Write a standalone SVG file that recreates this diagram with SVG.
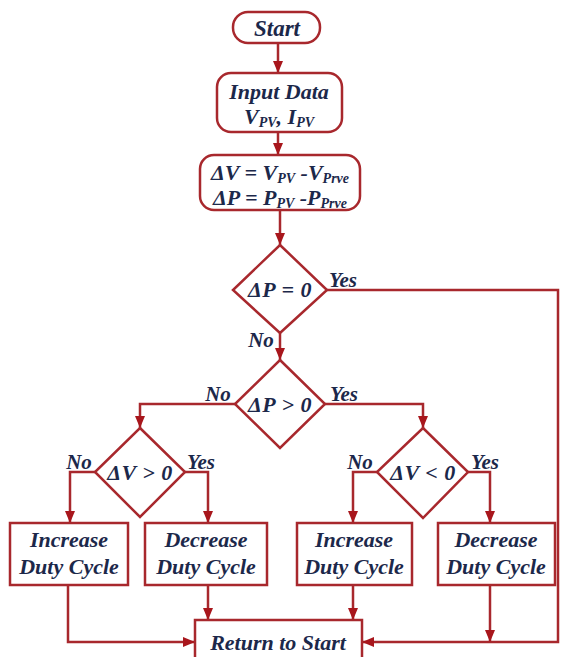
<svg xmlns="http://www.w3.org/2000/svg" width="563" height="657" viewBox="0 0 563 657">
<style>
.sh{fill:#fff;stroke:#a8282d;stroke-width:2.5}
.ln{fill:none;stroke:#a8282d;stroke-width:2.5}
.t{font-family:"Liberation Serif","Times New Roman",serif;font-weight:bold;font-style:italic;font-size:22px;fill:#1c284a;text-anchor:middle}
.l{font-family:"Liberation Serif","Times New Roman",serif;font-weight:bold;font-style:italic;font-size:21px;fill:#1c284a;text-anchor:middle}
.d{letter-spacing:0.5px}
.s{font-size:14px}
</style>
<defs>
<marker id="ah" markerUnits="userSpaceOnUse" markerWidth="12" markerHeight="12" viewBox="0 0 12 12" refX="12" refY="6" orient="auto">
<path d="M0,1 L12,6 L0,11 Z" fill="#a8161c"/>
</marker>
</defs>
<rect width="563" height="657" fill="#fff"/>
<g id="connectors">
<path class="ln" d="M278,43 V73" marker-end="url(#ah)"/>
<path class="ln" d="M278,132 V155" marker-end="url(#ah)"/>
<path class="ln" d="M280,210 V245" marker-end="url(#ah)"/>
<path class="ln" d="M327,290 H558 V642 H362" marker-end="url(#ah)"/>
<path class="ln" d="M280,333 V360" marker-end="url(#ah)"/>
<path class="ln" d="M235,404 H140 V428" marker-end="url(#ah)"/>
<path class="ln" d="M325,404 H423 V428" marker-end="url(#ah)"/>
<path class="ln" d="M95,472 H70 V523" marker-end="url(#ah)"/>
<path class="ln" d="M185,472 H208 V523" marker-end="url(#ah)"/>
<path class="ln" d="M377,472 H353 V523" marker-end="url(#ah)"/>
<path class="ln" d="M468,472 H490 V523" marker-end="url(#ah)"/>
<path class="ln" d="M68,585 V642 H195" marker-end="url(#ah)"/>
<path class="ln" d="M208,585 V620" marker-end="url(#ah)"/>
<path class="ln" d="M353,585 V620" marker-end="url(#ah)"/>
<path class="ln" d="M490,585 V642" marker-end="url(#ah)"/>
</g>
<g id="start">
<rect class="sh" x="233" y="12" width="87" height="31" rx="15"/>
<text class="t" x="277" y="36" style="font-size:23px">Start</text>
</g>
<g id="input">
<rect class="sh" x="217" y="73" width="125" height="59" rx="14"/>
<text class="t" x="279" y="99">Input Data</text>
<text class="t" x="279" y="124">V<tspan class="s" dy="3">PV</tspan><tspan dy="-3">, I</tspan><tspan class="s" dy="3">PV</tspan></text>
</g>
<g id="delta">
<rect class="sh" x="200" y="155" width="160" height="55" rx="14"/>
<text class="t" x="280" y="180">ΔV = V<tspan class="s" dy="3">PV</tspan><tspan dy="-3"> -V</tspan><tspan class="s" dy="3">Prve</tspan></text>
<text class="t" x="280" y="205">ΔP = P<tspan class="s" dy="3">PV</tspan><tspan dy="-3"> -P</tspan><tspan class="s" dy="3">Prve</tspan></text>
</g>
<g id="dp0">
<path class="sh" d="M280,245 L327,290 L280,333 L233,290 Z"/>
<text class="t d" x="280" y="297">ΔP = 0</text>
<text class="l" x="343" y="287">Yes</text>
<text class="l" x="261" y="347">No</text>
</g>
<g id="dpgt">
<path class="sh" d="M280,360 L325,404 L280,448 L235,404 Z"/>
<text class="t d" x="280" y="412">ΔP &gt; 0</text>
<text class="l" x="218" y="401">No</text>
<text class="l" x="344" y="401">Yes</text>
</g>
<g id="dvgt">
<path class="sh" d="M140,428 L185,472 L140,517 L95,472 Z"/>
<text class="t d" x="140" y="480">ΔV &gt; 0</text>
<text class="l" x="79" y="469">No</text>
<text class="l" x="201" y="469">Yes</text>
</g>
<g id="dvlt">
<path class="sh" d="M423,428 L468,472 L423,518 L377,472 Z"/>
<text class="t d" x="423" y="480">ΔV &lt; 0</text>
<text class="l" x="360" y="469">No</text>
<text class="l" x="485" y="469">Yes</text>
</g>
<g id="inc1">
<rect class="sh" x="10" y="523" width="118" height="62"/>
<text class="t" x="69" y="547">Increase</text>
<text class="t" x="69" y="574">Duty Cycle</text>
</g>
<g id="dec1">
<rect class="sh" x="145" y="523" width="122" height="62"/>
<text class="t" x="206" y="547">Decrease</text>
<text class="t" x="206" y="574">Duty Cycle</text>
</g>
<g id="inc2">
<rect class="sh" x="297" y="523" width="115" height="62"/>
<text class="t" x="354" y="547">Increase</text>
<text class="t" x="354" y="574">Duty Cycle</text>
</g>
<g id="dec2">
<rect class="sh" x="438" y="523" width="117" height="62"/>
<text class="t" x="496" y="547">Decrease</text>
<text class="t" x="496" y="574">Duty Cycle</text>
</g>
<g id="return">
<rect class="sh" x="195" y="620" width="167" height="50"/>
<text class="t" x="278" y="650">Return to Start</text>
</g>
</svg>
